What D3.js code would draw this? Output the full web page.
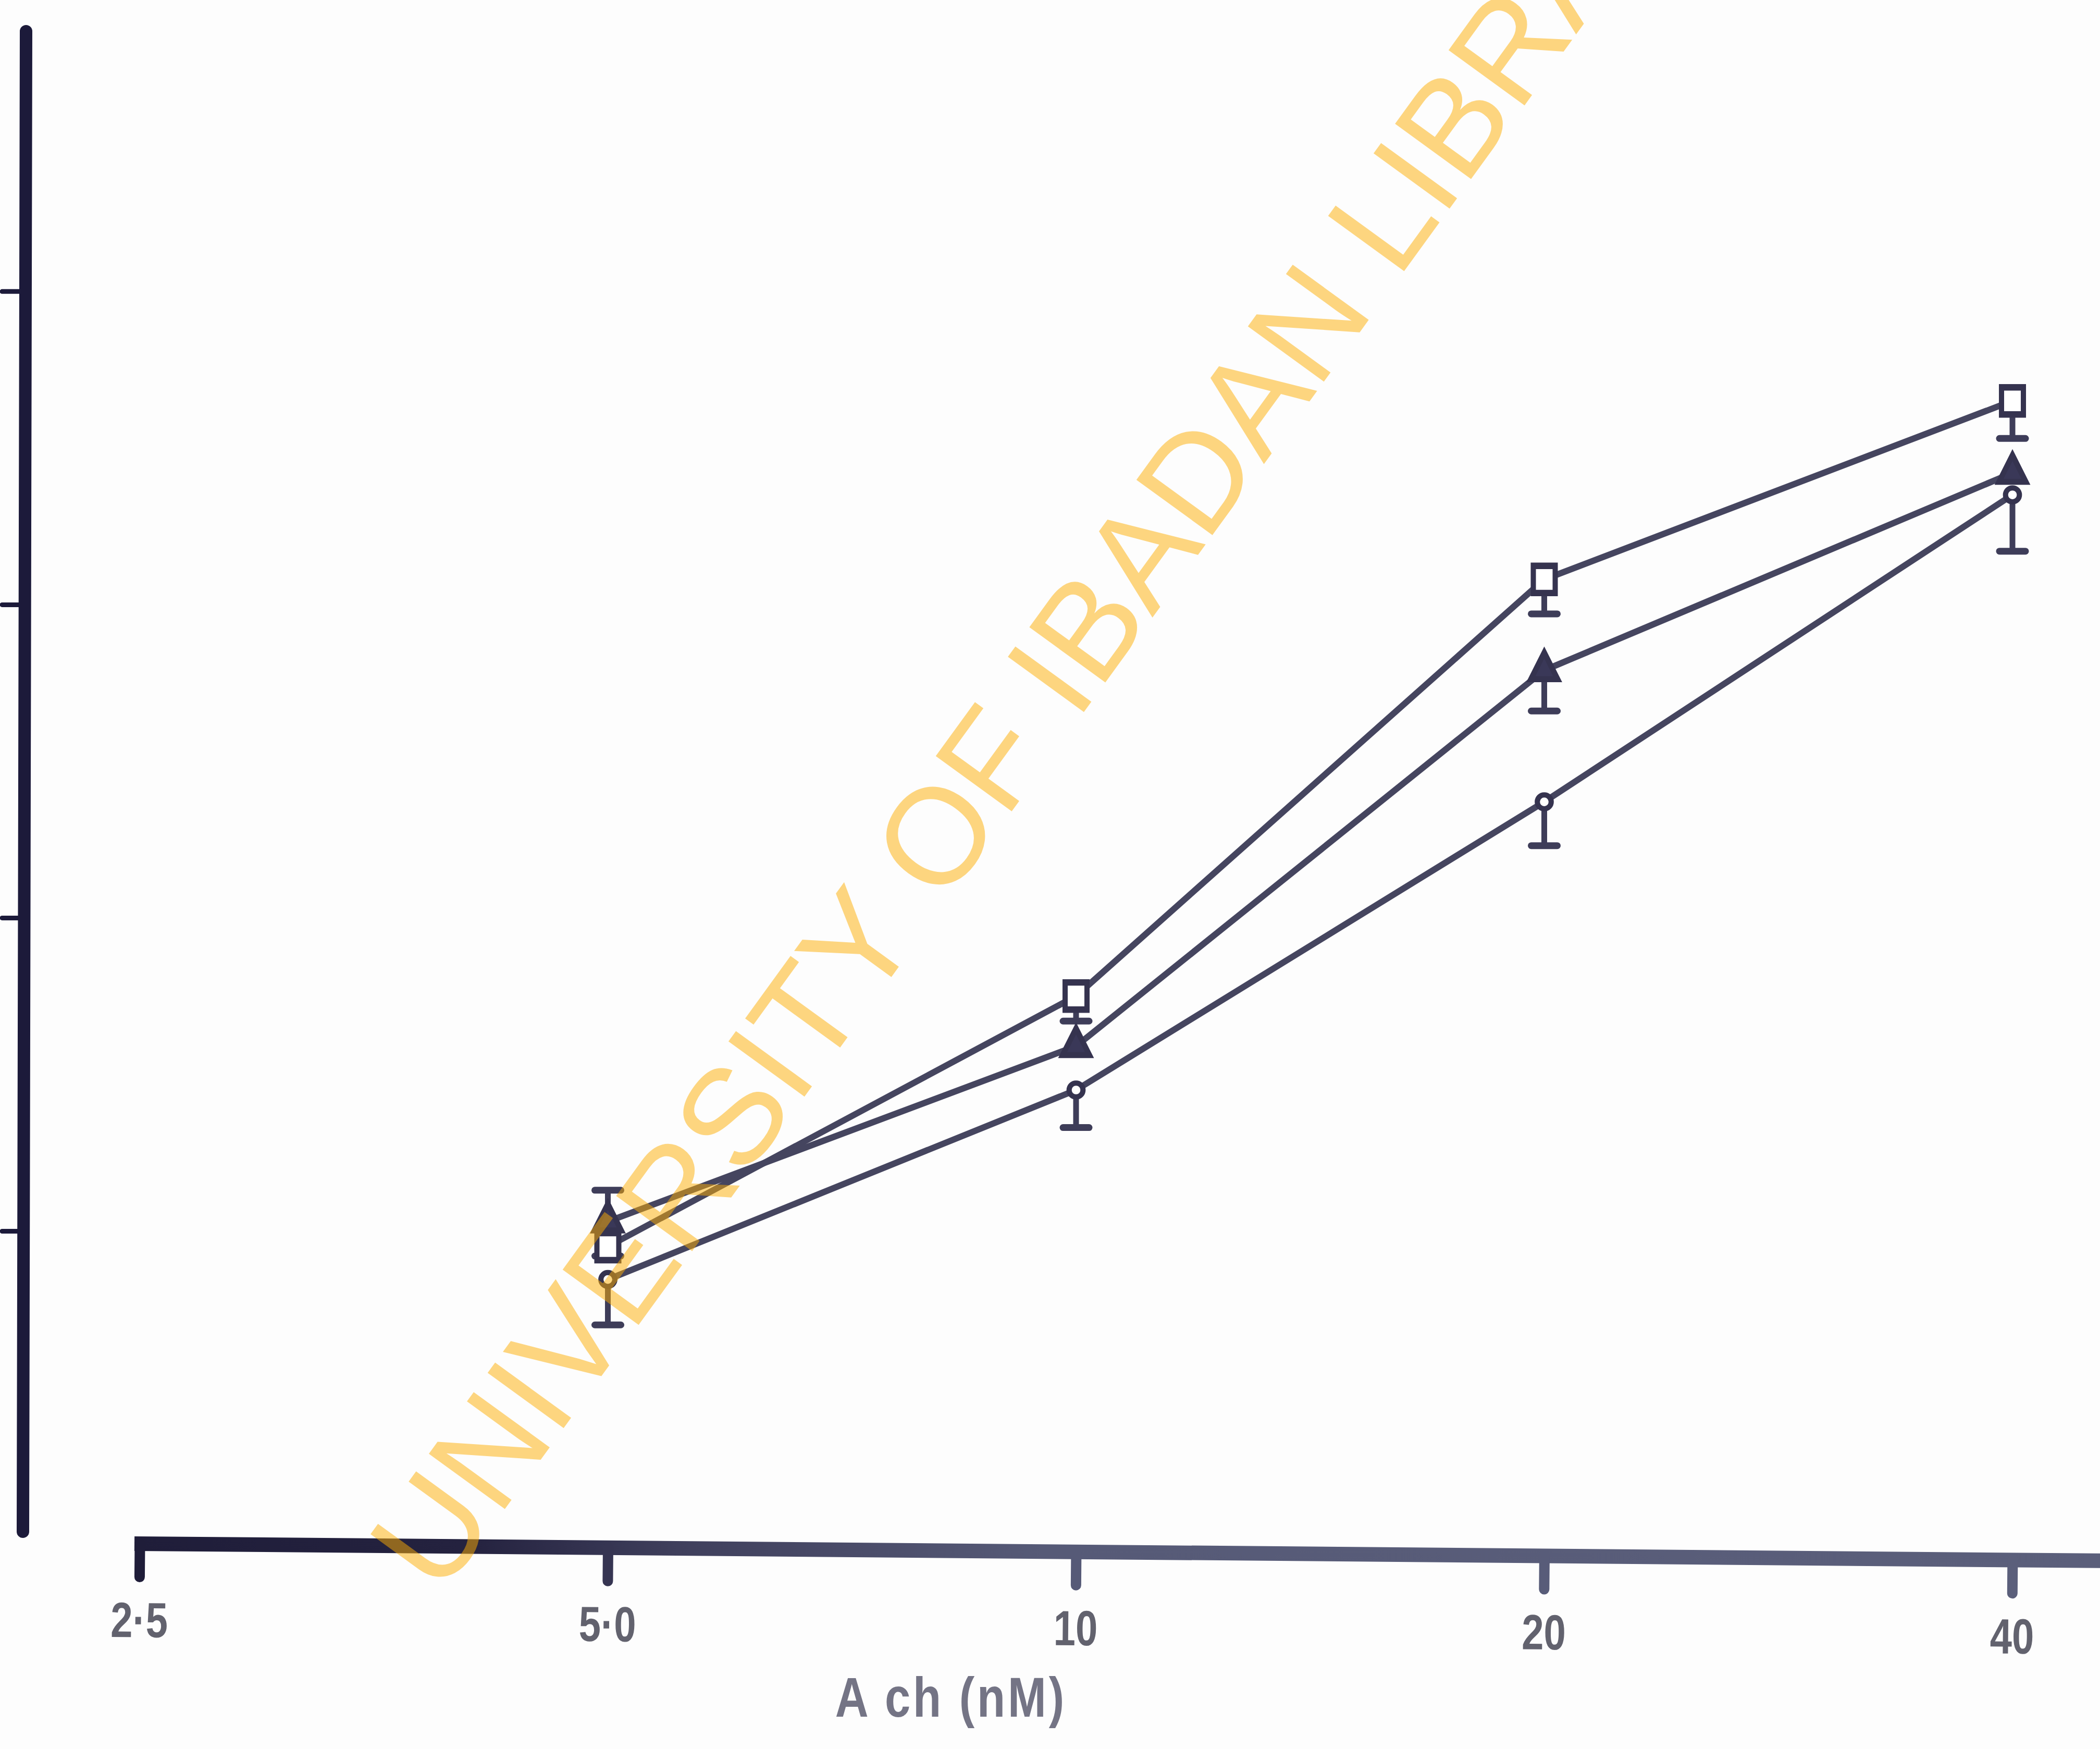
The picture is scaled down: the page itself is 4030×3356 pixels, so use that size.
<!DOCTYPE html>
<html>
<head>
<meta charset="utf-8">
<script src="https://cdn.jsdelivr.net/npm/d3@7"></script>
<style>
  body { margin: 0; background: #fdfdfd; }
  svg { display: block; }
</style>
</head>
<body>
<script>
let w = 4030;
let h = 3356;

// Ach concentration (nM), log axis
let doses = [5, 10, 20, 40];
let tickValues = [2.5, 5, 10, 20, 40];
let tickLabels = ['2·5', '5·0', '10', '20', '40'];
let yTicks = [1, 2, 3, 4];

// response values (axis units, no labels on original)
let squareValues = [0.95, 1.75, 3.08, 3.65];
let squareErrLow = [0.03, 0.08, 0.11, 0.12];
let squareErrHigh = [0, 0, 0, 0];

let triangleValues = [1.03, 1.59, 2.79, 3.42];
let triangleErrLow = [0, 0, 0.13, 0];
let triangleErrHigh = [0.10, 0, 0, 0];

let circleValues = [0.845, 1.45, 2.37, 3.35];
let circleErrLow = [0.145, 0.12, 0.14, 0.18];
let circleErrHigh = [0, 0, 0, 0];

let xLabel = 'A ch (nM)';
let watermark = 'UNIVERSITY OF IBADAN LIBRARY';

let series = [
  { name: 'square', symbol: d3.symbolSquare, size: 1764, stretch: 1.24, fill: '#ffffff',
    values: squareValues, lo: squareErrLow, hi: squareErrHigh },
  { name: 'triangle', symbol: d3.symbolTriangle, size: 1150, stretch: 1.15, fill: '#3a3858',
    values: triangleValues, lo: triangleErrLow, hi: triangleErrHigh },
  { name: 'circle', symbol: d3.symbolCircle, size: 560, stretch: 1, fill: '#ffffff',
    values: circleValues, lo: circleErrLow, hi: circleErrHigh }
];

let xScale = d3.scaleLog()
  .base(2)
  .domain([2.5, 40])
  .range([268, 3862]);

let yScale = d3.scaleLinear()
  .domain([0, 4.83])
  .range([2963, 60]);

// ink of the x axis fades from dark navy (left) to slate (right)
let inkScale = d3.scaleLinear()
  .domain([0, 900, 1300, 2000, w])
  .range(['#1d1b37', '#24223f', '#3f3f5c', '#565a77', '#5b5f7b']);

let labelFont = "'Liberation Sans', Arial, sans-serif";

let svg = d3.select('body')
  .append('svg')
  .attr('width', w)
  .attr('height', h);

svg.append('rect')
  .attr('width', w)
  .attr('height', h)
  .attr('fill', '#fdfdfd');

let grad = svg.append('defs')
  .append('linearGradient')
  .attr('id', 'axisGrad')
  .attr('gradientUnits', 'userSpaceOnUse')
  .attr('x1', 0).attr('x2', w)
  .attr('y1', 0).attr('y2', 0);
grad.selectAll('stop')
  .data(inkScale.domain())
  .enter()
  .append('stop')
  .attr('offset', (d) => { return d / w; })
  .attr('stop-color', (d) => { return inkScale(d); });

let axisY = 2962;

let gx = svg.append('g')
  .attr('class', 'axis')
  .attr('transform', 'translate(0, ' + axisY + ') rotate(0.5, ' + xScale(2.5) + ', 0)');

gx.append('line')
  .attr('x1', xScale(2.5) - 10)
  .attr('x2', w + 50)
  .attr('y1', 0)
  .attr('y2', 0)
  .attr('stroke', 'url(#axisGrad)')
  .attr('stroke-width', 28);

let xAxis = d3.axisBottom()
  .scale(xScale)
  .tickValues(tickValues)
  .tickFormat((d, i) => { return tickLabels[i]; })
  .tickSize(64)
  .tickPadding(48);

gx.call(xAxis);

gx.select('.domain').remove();
gx.selectAll('.tick line')
  .attr('stroke', (d) => { return inkScale(xScale(d)); })
  .attr('stroke-width', 20)
  .attr('stroke-linecap', 'round');
gx.selectAll('.tick text')
  .attr('font-family', labelFont)
  .attr('font-size', '95px')
  .attr('font-weight', 'bold')
  .attr('transform', 'scale(0.8, 1)')
  .attr('fill', '#62626e');

svg.append('text')
  .text(xLabel)
  .attr('transform', 'translate(1825, 3294) scale(0.82, 1)')
  .attr('text-anchor', 'middle')
  .attr('font-family', labelFont)
  .attr('font-size', '108px')
  .attr('font-weight', 'bold')
  .attr('letter-spacing', '6px')
  .attr('fill', '#747485');

// y axis: no labels, ticks pointing left
let yAxis = d3.axisLeft()
  .scale(yScale)
  .tickValues(yTicks)
  .tickFormat('')
  .tickSize(44);

let gy = svg.append('g')
  .attr('class', 'axis')
  .attr('transform', 'translate(48, 0)')
  .call(yAxis);

gy.select('.domain').remove();
gy.selectAll('.tick line')
  .attr('stroke', '#1c1a3a')
  .attr('stroke-width', 9)
  .attr('stroke-linecap', 'round');

svg.append('line')
  .attr('x1', 50)
  .attr('x2', 44)
  .attr('y1', yScale(4.83))
  .attr('y2', yScale(0.04))
  .attr('stroke', '#1c1a3a')
  .attr('stroke-width', 24)
  .attr('stroke-linecap', 'round');

// series lines
let line = d3.line()
  .x((d) => { return xScale(d.x); })
  .y((d) => { return yScale(d.y); });

let pts = (s) => {
  return doses.map((x, i) => {
    return { x: x, y: s.values[i], lo: s.lo[i], hi: s.hi[i] };
  });
};

svg.selectAll('path.series')
  .data(series)
  .enter()
  .append('path')
  .attr('class', 'series')
  .attr('d', (s) => { return line(pts(s)); })
  .attr('fill', 'none')
  .attr('stroke', '#45455f')
  .attr('stroke-width', 12)
  .attr('stroke-linejoin', 'round');

// error bars (one-sided, as drawn)
series.forEach((s) => {
  let g = svg.append('g').attr('class', 'err-' + s.name);
  let bars = pts(s).filter((d) => { return d.lo > 0 || d.hi > 0; });

  g.selectAll('line.stem')
    .data(bars)
    .enter()
    .append('line')
    .attr('class', 'stem')
    .attr('x1', (d) => { return xScale(d.x); })
    .attr('x2', (d) => { return xScale(d.x); })
    .attr('y1', (d) => { return yScale(d.y + d.hi); })
    .attr('y2', (d) => { return yScale(d.y - d.lo); })
    .attr('stroke', '#3e3d59')
    .attr('stroke-width', 11);

  g.selectAll('line.cap')
    .data(bars)
    .enter()
    .append('line')
    .attr('class', 'cap')
    .attr('x1', (d) => { return xScale(d.x) - 25; })
    .attr('x2', (d) => { return xScale(d.x) + 25; })
    .attr('y1', (d) => { return yScale(d.hi > 0 ? d.y + d.hi : d.y - d.lo); })
    .attr('y2', (d) => { return yScale(d.hi > 0 ? d.y + d.hi : d.y - d.lo); })
    .attr('stroke', '#3e3d59')
    .attr('stroke-width', 13)
    .attr('stroke-linecap', 'round');
});

// markers
series.forEach((s) => {
  svg.append('g')
    .selectAll('path')
    .data(pts(s))
    .enter()
    .append('path')
    .attr('d', d3.symbol().type(s.symbol).size(s.size))
    .attr('transform', (d) => {
      return 'translate(' + xScale(d.x) + ',' + yScale(d.y) + ') scale(1,' + s.stretch + ')';
    })
    .attr('fill', s.fill)
    .attr('stroke', '#35334f')
    .attr('stroke-width', 10);
});

// library watermark on top
svg.append('text')
  .text(watermark)
  .attr('transform', 'translate(845, 3066) rotate(-54)')
  .attr('font-family', "'Liberation Sans', Arial, sans-serif")
  .attr('font-size', '262px')
  .attr('fill', 'rgb(253, 173, 2)')
  .attr('fill-opacity', 0.5);
</script>
</body>
</html>
